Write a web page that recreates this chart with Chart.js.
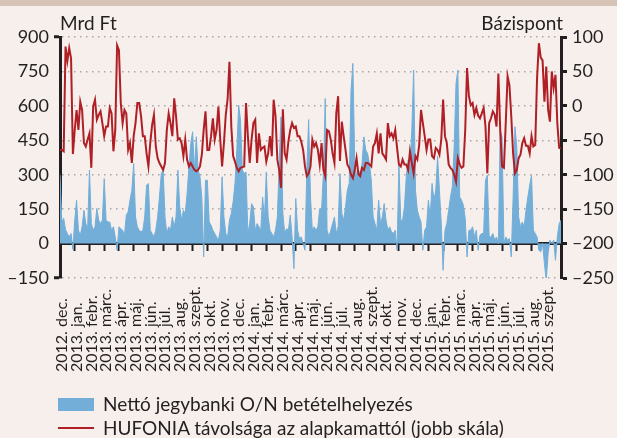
<!DOCTYPE html>
<html lang="hu">
<head>
<meta charset="UTF-8">
<title>Nettó jegybanki O/N betételhelyezés és HUFONIA</title>
<script src="https://cdn.jsdelivr.net/npm/chart.js@4"></script>
<style>
  body { margin: 0; background: #f6efec; font-family: 'Lato', sans-serif; color: #231f20; }
  .wrap { position: relative; width: 617px; height: 438px; overflow: hidden; }
  .band { position: absolute; left: 0; top: 0; width: 617px; height: 6px; background: #d5c4b5; }
  canvas { position: absolute; left: 0; top: 0; }
  .unit { position: absolute; top: 13px; font-size: 19px; line-height: 20px; }
  .legend { position: absolute; left: 58px; top: 392px; font-size: 19px; line-height: 24px; }
  .legend div { display: flex; align-items: center; }
  .key { width: 36px; margin-right: 9px; }
  .key.bar { height: 13px; background: #72aed8; }
  .key.line { height: 2px; background: #b01f25; }
</style>
</head>
<body>
<div class="wrap">
  <div class="band"></div>
  <canvas id="chart" width="617" height="438"></canvas>
  <div class="unit" style="left:60px">Mrd Ft</div>
  <div class="unit" style="right:54px">Bázispont</div>
  <div class="legend">
    <div><span class="key bar"></span>Nettó jegybanki O/N betételhelyezés</div>
    <div><span class="key line"></span>HUFONIA távolsága az alapkamattól (jobb skála)</div>
  </div>
</div>
<script>
// months on the x axis (one label per month start)
const months = [
  '2012. dec.',
  '2013. jan.', '2013. febr.', '2013. márc.', '2013. ápr.', '2013. máj.', '2013. jún.',
  '2013. júl.', '2013. aug.', '2013. szept.', '2013. okt.', '2013. nov.', '2013. dec.',
  '2014. jan.', '2014. febr.', '2014. márc.', '2014. ápr.', '2014. máj.', '2014. jún.',
  '2014. júl.', '2014. aug.', '2014. szept.', '2014. okt.', '2014. nov.', '2014. dec.',
  '2015. jan.', '2015. febr.', '2015. márc.', '2015. ápr.', '2015. máj.', '2015. jún.',
  '2015. júl.', '2015. aug.', '2015. szept.'
];

// Net O/N central bank deposits, bn HUF (8 readings per month)
const deposits = [
  [300, 90, 110, 60, 44, 29, 44, -25],
  [102, 189, 58, 36, 73, 145, 87, 65],
  [320, 87, 58, 73, 153, 102, 87, 102],
  [283, 102, 94, 94, 58, 73, 29, -29],
  [73, 65, 58, 36, 124, 138, 189, 232],
  [349, 116, 73, 58, 51, 58, 116, 254],
  [262, 58, 44, 29, 58, 116, 203, 305],
  [320, 116, 44, 73, 58, 116, 73, 116],
  [320, 160, 102, 145, 131, 218, 334, 436],
  [487, 320, 465, 320, 291, 203, -58, 276],
  [276, 94, 80, 58, 44, 29, 15, 58],
  [291, 116, 44, 29, 102, 131, 182, 262],
  [407, 603, 538, 320, 305, 312, 44, 87],
  [174, 160, 58, 87, 73, 58, 203, 109],
  [312, 116, 58, 44, 29, 58, 116, 349],
  [552, 131, 44, 65, 58, 124, 29, -109],
  [196, 58, 22, 29, 0, -29, 320, 540],
  [203, 58, 73, 58, 73, 153, 145, 305],
  [632, 58, 29, 58, 87, 116, 44, 73],
  [305, 131, 102, 160, 232, 262, 668, 785],
  [363, 291, 320, 305, 349, 465, 407, 392],
  [349, 276, 116, 87, 58, 189, 87, 116],
  [174, 102, 58, 73, 51, 44, 58, -29],
  [349, 102, 102, 160, 291, 363, 320, 494],
  [756, 232, 145, 116, 94, -29, 58, 73],
  [189, 116, 262, 189, 232, 380, 232, 87],
  [-116, 58, 87, 145, 203, 247, 421, 697],
  [756, 203, 189, 167, 109, -58, 58, 58],
  [73, 29, 58, -29, 36, 44, 44, 276],
  [298, 29, 29, 44, 15, 29, 0, 494],
  [465, 0, 29, 15, 22, -58, 203, 509],
  [421, 116, 73, 94, 73, 145, 203, 254],
  [298, 58, 44, 29, -29, -36, 0, -87],
  [-160, -44, 15, 0, 15, -73, 29, 87]
];
const depositsLast = 102;

// HUFONIA minus base rate, basis points (same sampling)
const spread = [
  [-64, -64, -66, 86, 65, 84, 69, -70],
  [-35, -6, -35, 6, -6, -54, -59, -49],
  [-40, -90, -1, 9, -20, -13, -8, -25],
  [-44, -30, -30, -3, -11, -66, -35, 88],
  [81, 4, -25, -6, -11, -64, -54, -83],
  [-44, -25, 4, 4, -15, -44, -44, -69],
  [-88, -54, -28, -13, -59, -76, -83, -88],
  [-93, -83, -35, -11, -25, -44, 11, -15],
  [-49, -47, -54, -73, -49, -78, -88, -83],
  [-88, -93, -95, -93, -88, -71, -35, -8],
  [-64, -64, -44, -18, -49, -35, -1, -49],
  [-88, -54, -13, 10, 64, -30, -73, -81],
  [-90, -95, -90, -89, -88, 4, -44, -83],
  [-49, -25, -20, -83, -40, -64, -61, -59],
  [-81, -69, -44, -73, 9, -15, -78, -93],
  [-119, -5, -69, -78, -52, -35, -25, -32],
  [-30, -44, -44, -52, -64, -88, -102, -98],
  [-88, -49, -59, -54, -64, -85, -54, -93],
  [-102, -35, -37, -49, -69, -83, -11, 14],
  [-80, -23, -44, -64, -85, -90, -100, -105],
  [-93, -76, -99, -102, -90, -93, -83, -83],
  [-85, -88, -59, -54, -40, -69, -40, -69],
  [-73, -78, -25, -44, -40, -47, -35, -61],
  [-85, -88, -78, -85, -85, -93, -66, -83],
  [-98, -73, -78, -57, -6, -25, -44, -64],
  [-49, -49, -73, -76, -61, -64, -71, -49],
  [9, -44, -54, -85, -90, -93, -100, -110],
  [-76, -85, -90, -88, -35, 55, 14, 1],
  [4, -13, -3, -14, -18, -11, -3, -30],
  [-98, -25, -18, -8, -13, -30, 47, -35],
  [-88, -90, -25, 43, 30, -15, -69, -98],
  [-93, -76, -71, -54, -47, -58, -58, -69],
  [-44, -59, -57, 40, 91, 70, 66, 6],
  [57, -6, -23, 50, 26, 45, -25, -61]
];
const spreadLast = -62;

const leftTicks = { min: -150, max: 900, step: 150 };
const rightTicks = { min: -250, max: 100, step: 50 };

const BLUE = '#72aed8';
const RED = '#b01f25';
const INK = '#231f20';

// month rows -> {x: month position, y: value}
function toPoints(rows, last) {
  const pts = [];
  rows.forEach((row, m) => {
    row.forEach((v, k) => pts.push({ x: m + k / row.length, y: v }));
  });
  pts.push({ x: rows.length, y: last });
  return pts;
}

const dash = s => String(s).replace('-', '–');

// rotated month labels, reading upwards and starting at a common baseline
const monthLabels = {
  id: 'monthLabels',
  afterDraw(chart) {
    const { ctx, scales: { x } } = chart;
    ctx.save();
    ctx.font = '16px Lato';
    ctx.fillStyle = INK;
    ctx.textAlign = 'left';
    ctx.textBaseline = 'middle';
    months.forEach((label, i) => {
      ctx.save();
      ctx.translate(x.getPixelForValue(i) + 2, 372);
      ctx.rotate(-Math.PI / 2);
      ctx.fillText(label, 0, 0);
      ctx.restore();
    });
    ctx.restore();
  }
};

Chart.defaults.font.family = 'Lato';
Chart.defaults.color = INK;

new Chart(document.getElementById('chart'), {
  type: 'line',
  data: {
    datasets: [
      {
        label: 'HUFONIA távolsága az alapkamattól (jobb skála)',
        data: toPoints(spread, spreadLast),
        yAxisID: 'y2',
        borderColor: RED,
        borderWidth: 2,
        pointRadius: 0,
        fill: false
      },
      {
        label: 'Nettó jegybanki O/N betételhelyezés',
        data: toPoints(deposits, depositsLast),
        yAxisID: 'y',
        borderColor: BLUE,
        backgroundColor: BLUE,
        borderWidth: 1,
        pointRadius: 0,
        fill: 'origin'
      }
    ]
  },
  options: {
    responsive: false,
    animation: false,
    layout: { padding: { top: 37, bottom: 160, left: 0, right: 0 } },
    plugins: { legend: { display: false }, tooltip: { enabled: false } },
    scales: {
      x: {
        type: 'linear',
        min: 0,
        max: months.length,
        position: { y: 0 },
        z: 1,
        ticks: { display: false, stepSize: 1 },
        grid: { drawOnChartArea: false, tickLength: 6, tickColor: INK, tickWidth: 2 },
        border: { color: INK, width: 3 }
      },
      y: {
        position: 'left',
        min: leftTicks.min,
        max: leftTicks.max,
        ticks: { stepSize: leftTicks.step, font: { size: 18 }, padding: 5, callback: dash },
        grid: {
          color: '#a9a5a3',
          lineWidth: 1.5,
          tickLength: 6,
          tickWidth: 3,
          tickColor: c => (c.tick && (c.tick.value === leftTicks.min || c.tick.value === leftTicks.max)) ? INK : 'rgba(0,0,0,0)'
        },
        border: { color: INK, width: 3, dash: [1.5, 4.5] },
        afterFit: s => { s.width = 60; }
      },
      y2: {
        position: 'right',
        min: rightTicks.min,
        max: rightTicks.max,
        ticks: { stepSize: rightTicks.step, font: { size: 18 }, padding: 5, callback: dash },
        grid: { drawOnChartArea: false, tickLength: 6, tickWidth: 3, tickColor: INK },
        border: { color: INK, width: 3 },
        afterFit: s => { s.width = 56; }
      }
    }
  },
  plugins: [monthLabels]
});
</script>
</body>
</html>
